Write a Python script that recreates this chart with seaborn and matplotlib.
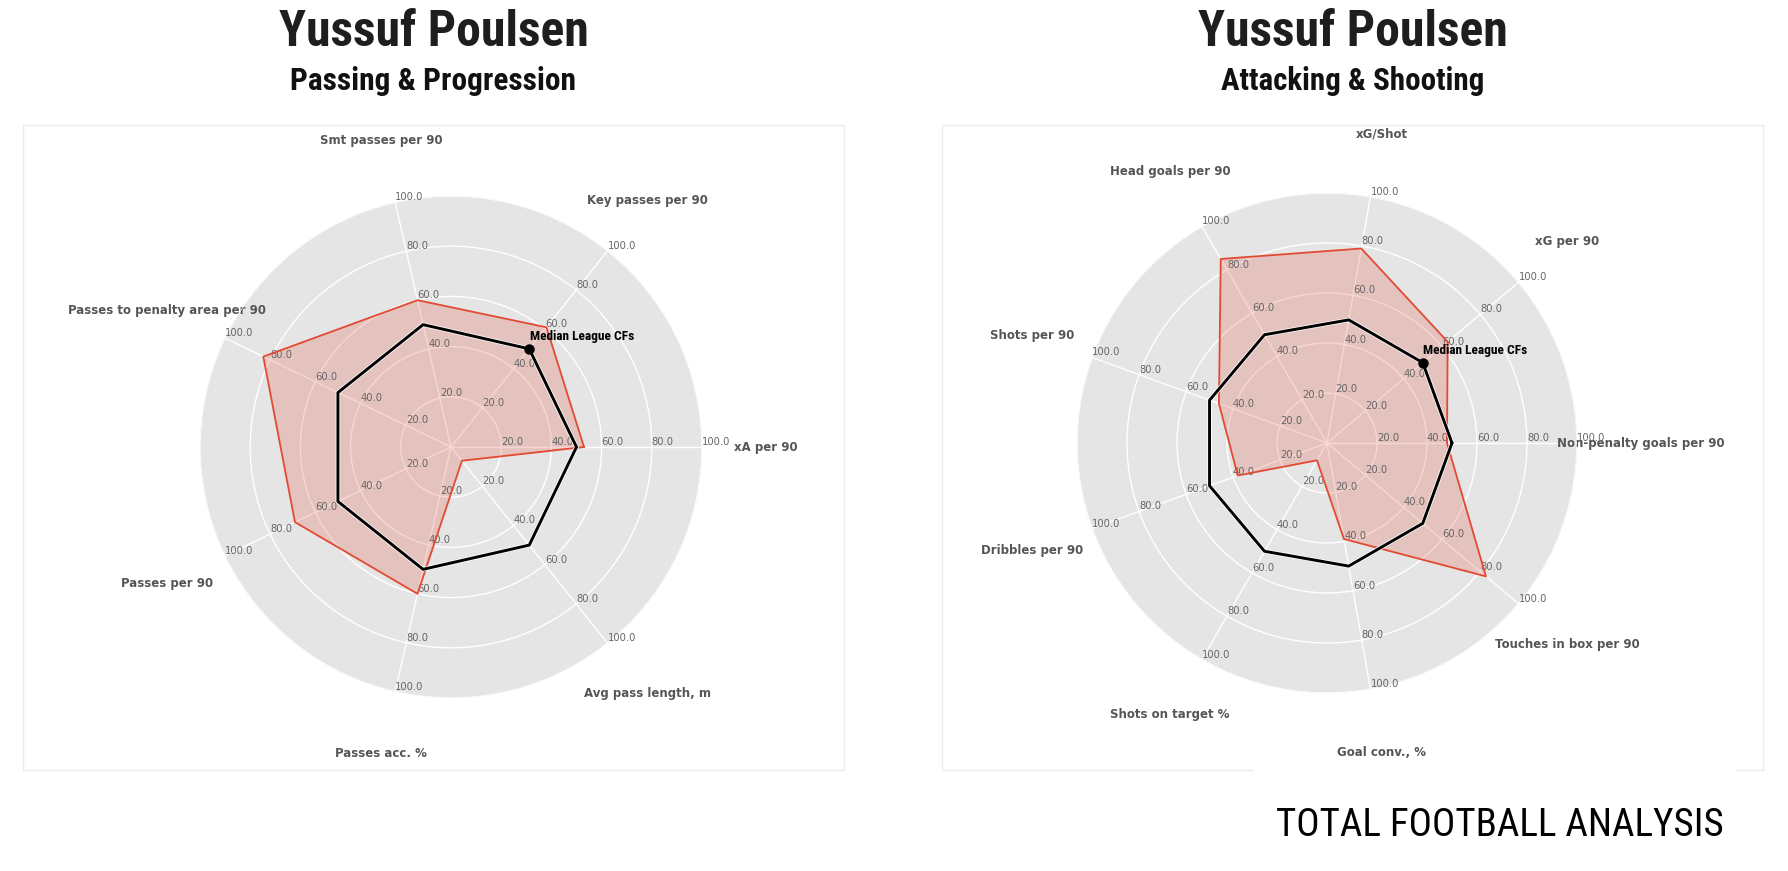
import os
import numpy as np
import matplotlib
matplotlib.use("Agg")
import matplotlib.pyplot as plt
import matplotlib.font_manager as fm
import matplotlib.patheffects as pe
from matplotlib.patches import Rectangle
from matplotlib.textpath import TextPath
import seaborn as sns

# ---------------- data ----------------
player_name = "Yussuf Poulsen"
median_label = "Median League CFs"

left_subtitle = "Passing & Progression"
left_metrics = ["xA per 90", "Key passes per 90", "Smt passes per 90",
                "Passes to penalty area per 90", "Passes per 90",
                "Passes acc. %", "Avg pass length, m"]
left_player = [53, 61, 60, 83, 69, 60, 7]
left_median = [50, 50, 50, 50, 50, 50, 50]

right_subtitle = "Attacking & Shooting"
right_metrics = ["Non-penalty goals per 90", "xG per 90", "xG/Shot",
                 "Head goals per 90", "Shots per 90", "Dribbles per 90",
                 "Shots on target %", "Goal conv., %", "Touches in box per 90"]
right_player = [48, 63, 79, 85, 46, 38, 8, 39, 83]
right_median = [50, 50, 50, 50, 50, 50, 50, 50, 50]

radial_ticks = [20, 40, 60, 80, 100]
logo_text = "TOTAL FOOTBALL ANALYSIS"

# ---------------- style ----------------
W, H, DPI = 1788, 871, 100
RED = "#E24A33"

sns.set_theme(style="darkgrid", rc={
    "axes.facecolor": "#E5E5E5",
    "grid.color": "white",
    "grid.linewidth": 1.0,
    "axes.edgecolor": "white",
    "figure.facecolor": "white",
    "savefig.facecolor": "white",
})
plt.rcParams["font.family"] = ["DejaVu Sans"]


def _key(s):
    return s.lower().replace("_", "").replace("-", "").replace(" ", "")


_files = {}
for _f in fm.fontManager.ttflist:
    _files.setdefault(_key(os.path.splitext(os.path.basename(_f.fname))[0]), _f.fname)


def pick_font(cands, weight="bold"):
    for c in cands:
        k = _key(c)
        if k in _files:
            return fm.FontProperties(fname=_files[k])
    return fm.FontProperties(family="DejaVu Sans", weight=weight)


fp_cond_bold = pick_font(["NotoSans-ExtraCondensedBold", "NotoSansDisplay-ExtraCondensedBold",
                          "NotoSans-CondensedBold", "RobotoCondensed-Bold",
                          "OpenSans-CondensedBold", "OpenSansCondensed-Bold",
                          "LiberationSansNarrow-Bold", "DejaVuSansCondensed-Bold"])
fp_logo = pick_font(["NotoSans-ExtraCondensed", "NotoSans-ExtraCondensedRegular",
                     "NotoSans-ExtraCondensedMedium", "NotoSans-Condensed",
                     "RobotoCondensed-Regular", "LiberationSansNarrow-Regular",
                     "LiberationSansNarrow", "DejaVuSansCondensed"], weight="normal")


def fitted(fp, s, target_w, target_h, a=0.5):
    """font properties sized so the ink box approximates target width/cap height (px)"""
    w1 = TextPath((0, 0), s, size=100, prop=fp).get_extents().width / 100
    h1 = TextPath((0, 0), "H", size=100, prop=fp).get_extents().height / 100
    fs_px = (target_w / w1) ** a * (target_h / h1) ** (1 - a)
    p = fp.copy()
    p.set_size(fs_px * 72 / DPI)
    return p


def fx(px):
    return px / W


def fy(py):
    return 1 - py / H


fig = plt.figure(figsize=(W / DPI, H / DPI), dpi=DPI)

# panel frames
for x0, x1 in [(23, 844), (942, 1763)]:
    fig.patches.append(Rectangle((fx(x0), fy(770)), (x1 - x0) / W, 645 / H,
                                 transform=fig.transFigure, fill=False,
                                 edgecolor="#ececec", lw=1.0, zorder=0))

fp_median = fitted(fp_cond_bold, median_label, 94, 10.5)


def draw_radar(ax, metrics, player, median):
    n = len(metrics)
    theta = np.linspace(0, 2 * np.pi, n, endpoint=False)
    th_c = np.append(theta, theta[0])
    pl_c = np.append(player, player[0])
    md_c = np.append(median, median[0])

    ax.set_ylim(0, 100)
    ax.set_yticks(radial_ticks)
    ax.set_yticklabels([])
    ax.set_xticks(theta)
    ax.set_xticklabels(metrics, fontsize=8.5, fontweight="bold", color="#555555")
    ax.tick_params(axis="x", pad=33)
    ax.spines["polar"].set_visible(False)
    ax.grid(True, color="white", linewidth=1.0)

    for t in theta:
        for r in radial_ticks:
            ax.text(t, r, f"{float(r):.1f}", ha="left", va="bottom",
                    fontsize=7.2, color="#666666", zorder=2.5)

    ax.fill(th_c, pl_c, color=RED, alpha=0.22, lw=0, zorder=2)
    sns.lineplot(x=th_c, y=pl_c, sort=False, estimator=None, ax=ax,
                 color=RED, lw=1.3, zorder=3)
    sns.lineplot(x=th_c, y=md_c, sort=False, estimator=None, ax=ax,
                 color="black", lw=2.1, zorder=4,
                 path_effects=[pe.Stroke(linewidth=3.3, foreground="white", alpha=0.85),
                               pe.Normal()])
    ax.plot([theta[1]], [median[1]], "o", color="black", ms=6.5, zorder=5)
    ax.annotate(median_label, xy=(theta[1], median[1]), xytext=(0.5, 8.6),
                textcoords="offset points", ha="left", va="center",
                fontproperties=fp_median, color="black", zorder=6)
    ax.set_xlabel("")
    ax.set_ylabel("")


ax_l = fig.add_axes([fx(200), fy(698), 502 / W, 502 / H], polar=True)
draw_radar(ax_l, left_metrics, left_player, left_median)

ax_r = fig.add_axes([fx(1077), fy(693), 500 / W, 500 / H], polar=True)
draw_radar(ax_r, right_metrics, right_player, right_median)

# titles
for cx, sub, sw in [(433.5, left_subtitle, 280), (1352.5, right_subtitle, 259)]:
    fig.text(fx(cx), fy(46.5), player_name, ha="center", va="baseline",
             fontproperties=fitted(fp_cond_bold, player_name, 303, 40, a=0.9),
             color="#1e1e1e")
    fig.text(fx(cx), fy(90.5), sub, ha="center", va="baseline",
             fontproperties=fitted(fp_cond_bold, sub, sw, 23, a=0.85),
             color="#111111")

# logo area
fig.patches.append(Rectangle((fx(1254), 0), (1737 - 1254) / W, 113 / H,
                             transform=fig.transFigure, facecolor="white",
                             edgecolor="none", zorder=1))
fig.text(fx(1499.5), fy(836), logo_text, ha="center", va="baseline",
         fontproperties=fitted(fp_logo, logo_text, 445, 51, a=1.0),
         color="black", zorder=2)

fig.savefig("out.png", dpi=DPI)
